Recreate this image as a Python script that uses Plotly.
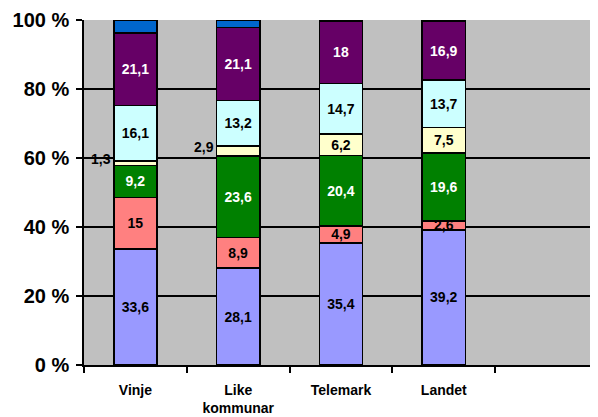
import plotly.graph_objects as go

categories = ["Vinje", "Like<br>kommunar", "Telemark", "Landet"]
empty_slot = " "

s1 = [33.6, 28.1, 35.4, 39.2]
s2 = [15, 8.9, 4.9, 2.6]
s3 = [9.2, 23.6, 20.4, 19.6]
s4 = [1.3, 2.9, 6.2, 7.5]
s5 = [16.1, 13.2, 14.7, 13.7]
s6 = [21.1, 21.1, 18, 16.9]
s7 = [3.7, 2.2, 0.4, 0.5]

series = [s1, s2, s3, s4, s5, s6, s7]
colors = ["#9999FF", "#FF8080", "#008000", "#FFFFCC", "#CCFFFF", "#660066", "#0066CC"]
text_colors = ["black", "black", "white", "black", "black", "white", "white"]
# which bars carry an in-bar label (thin yellow ones are labelled outside)
label_inside = [
    [True] * 4,
    [True] * 4,
    [True] * 4,
    [False, False, True, True],
    [True] * 4,
    [True] * 4,
    [False] * 4,
]

FONT = "Liberation Sans, Arial, sans-serif"

def fmt(v):
    return f"{v:g}".replace(".", ",")

fig = go.Figure()
for vals, col, tcol, shows in zip(series, colors, text_colors, label_inside):
    fig.add_trace(go.Bar(
        x=categories, y=vals,
        marker=dict(color=col, line=dict(color="black", width=1.5)),
        text=[fmt(v) if s else "" for v, s in zip(vals, shows)],
        textposition="inside",
        insidetextanchor="middle",
        textangle=0,
        textfont=dict(family=FONT, size=14, color=tcol, weight="bold"),
        width=0.42,
        hoverinfo="skip",
    ))

# outside labels for thin yellow segments
for i in range(2):
    base = s1[i] + s2[i] + s3[i]
    fig.add_annotation(
        x=categories[i], y=base + s4[i] / 2,
        text=fmt(s4[i]), showarrow=False,
        xanchor="right", xshift=-22, yshift=4,
        font=dict(family=FONT, size=14, color="black", weight="bold"),
    )

# page body has an 8px margin, so the figure is sized/offset to compensate
fig.update_layout(
    barmode="stack",
    width=590, height=409,
    margin=dict(l=76, r=0, t=12, b=52, pad=0),
    paper_bgcolor="white",
    plot_bgcolor="#C0C0C0",
    showlegend=False,
    uniformtext=dict(minsize=14, mode="show"),
    xaxis=dict(
        type="category",
        categoryorder="array",
        categoryarray=categories + [empty_slot],
        range=[-0.5, 4.5],
        tickson="boundaries",
        ticks="outside", ticklen=6, tickcolor="black", tickwidth=1.5,
        showline=True, linecolor="black", linewidth=1.5,
        showgrid=False,
        ticklabelstandoff=11,
        tickfont=dict(family=FONT, size=14, color="black", weight="bold"),
        automargin=False,
    ),
    yaxis=dict(
        range=[0, 100],
        dtick=20,
        ticksuffix=" %",
        ticks="outside", ticklen=6, tickcolor="black", tickwidth=1.5,
        showline=True, linecolor="black", linewidth=1.5,
        showgrid=True, gridcolor="black", gridwidth=1.5,
        zeroline=False,
        tickfont=dict(family=FONT, size=20, color="black", weight="bold"),
        ticklabelstandoff=3,
        automargin=False,
    ),
)

fig.write_html("out.html")
